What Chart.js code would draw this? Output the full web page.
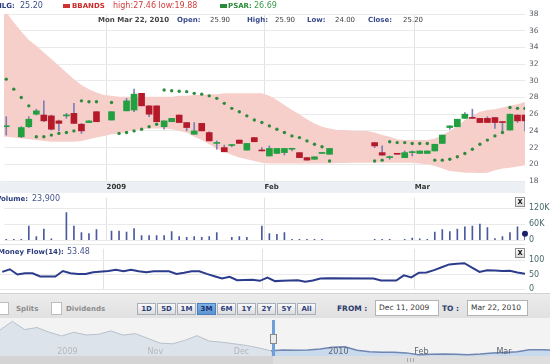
<!DOCTYPE html>
<html>
<head>
<meta charset="utf-8">
<script src="https://cdn.jsdelivr.net/npm/chart.js@4.4.1/dist/chart.umd.min.js"></script>
<style>
  html, body { margin: 0; padding: 0; }
  body { width: 550px; height: 364px; position: relative; overflow: hidden; background: #fff;
         font-family: "DejaVu Sans", Verdana, sans-serif; }
  canvas { position: absolute; left: 0; }
  .t { position: absolute; white-space: nowrap; line-height: 10px; }
  .b { font-weight: bold; }
  .navy { color: #2b3b80; }
  #xstrip { position: absolute; left: 0; top: 181px; width: 525px; height: 12px; background: #eceff4; }
  .sep { position: absolute; left: 0; width: 525px; height: 1px; background: #e4e4e4; }
  .mark { position: absolute; top: 4px; width: 7px; height: 4px; }
  .close { position: absolute; left: 515px; width: 8px; height: 8px; border: 1px solid #8e8e8e;
           background: linear-gradient(#ffffff, #d8d8d8); font: bold 8px "DejaVu Sans"; color: #222;
           text-align: center; line-height: 7px; }
  #ctrl { position: absolute; left: 0; top: 293px; width: 550px; height: 25px;
          background: linear-gradient(#ececec, #e1e1e1); border-top: 1px solid #d2d2d2; box-sizing: border-box; }
  .cb { position: absolute; top: 8px; width: 9px; height: 11px; background: #fff; border: 1px solid #bdbdbd; }
  .lbl { top: 10px; font-size: 7px; font-weight: bold; color: #8c8c8c; }
  #ranges { position: absolute; left: 137px; top: 9px; display: flex; gap: 1px; }
  #ranges span { width: 17px; height: 10px; border: 1px solid #a9aebb; background: linear-gradient(#fafafa, #dcdcdc);
                 font: bold 7px "DejaVu Sans"; color: #2d3f7f; text-align: center; line-height: 10px; }
  #ranges span.on { background: linear-gradient(#7fb2e6, #5a94d2); border-color: #4a7fbf; color: #1c2f6e; }
  .from { top: 10px; font-size: 7.5px; font-weight: bold; color: #2a3a6a; }
  .inp { position: absolute; top: 6px; height: 14px; background: #fff; border: 1px solid #b3b3b3;
         font-size: 7.5px; color: #333; line-height: 14px; padding-left: 3px; box-sizing: content-box; }
  #navbg { position: absolute; left: 0; top: 318px; width: 550px; height: 38px; background: #f3f3f3; }
  #scroll { position: absolute; left: 0; top: 356px; width: 550px; height: 8px; background: #d4d4d4; }
  #thumb { position: absolute; left: 273px; top: 0; width: 277px; height: 8px; background: #dedede; }
  #grip { position: absolute; left: 134px; top: 2px; width: 8px; height: 4px;
          background: repeating-linear-gradient(90deg, #a8a8a8 0 1px, transparent 1px 3px); }
</style>
</head>
<body>
<div id="xstrip"></div>
<div class="sep" style="top:244px"></div>
<canvas id="price" width="550" height="193" style="top:0"></canvas>
<canvas id="volume" width="550" height="60" style="top:189px"></canvas>
<canvas id="mflow" width="550" height="58" style="top:240px"></canvas>

<!-- header, first row -->
<span class="t b navy" style="left:-4px;top:1px;font-size:7px">HLG:</span>
<span class="t" style="left:20px;top:1px;font-size:8px;color:#3d4f8a">25.20</span>
<div class="mark" style="left:63px;background:#d03030"></div>
<span class="t b" style="left:72px;top:1px;font-size:7px;color:#cc2a2a">BBANDS</span>
<span class="t" style="left:113px;top:1px;font-size:8px;color:#d33c3c">high:27.46 low:19.88</span>
<div class="mark" style="left:220px;background:#2a8a3a"></div>
<span class="t b" style="left:228px;top:1px;font-size:7px;color:#2a8a3a">PSAR:</span>
<span class="t" style="left:254px;top:1px;font-size:8px;color:#3a9a4a">26.69</span>

<!-- header, second row -->
<span class="t b" style="left:98px;top:15px;font-size:7px;color:#444">Mon Mar 22, 2010</span>
<span class="t b" style="left:177px;top:15px;font-size:7px;color:#3a4b8c">Open:</span>
<span class="t" style="left:210px;top:15px;font-size:7px;color:#444">25.90</span>
<span class="t b" style="left:247px;top:15px;font-size:7px;color:#3a4b8c">High:</span>
<span class="t" style="left:275px;top:15px;font-size:7px;color:#444">25.90</span>
<span class="t b" style="left:307px;top:15px;font-size:7px;color:#3a4b8c">Low:</span>
<span class="t" style="left:335px;top:15px;font-size:7px;color:#444">24.00</span>
<span class="t b" style="left:368px;top:15px;font-size:7px;color:#3a4b8c">Close:</span>
<span class="t" style="left:403px;top:15px;font-size:7px;color:#444">25.20</span>

<!-- panel titles -->
<span class="t b navy" style="left:-4px;top:194px;font-size:7px">Volume:</span>
<span class="t" style="left:32px;top:194px;font-size:8px;color:#44558f">23,900</span>
<div class="close" style="top:197px">x</div>
<span class="t b navy" style="left:-2px;top:247px;font-size:7px">Money Flow(14):</span>
<span class="t" style="left:67px;top:247px;font-size:8px;color:#44558f">53.48</span>
<div class="close" style="top:248px">x</div>

<div id="ctrl">
  <div class="cb" style="left:-2px"></div><span class="t lbl" style="left:16px">Splits</span>
  <div class="cb" style="left:51px"></div><span class="t lbl" style="left:66px">Dividends</span>
  <div id="ranges"><span>1D</span><span>5D</span><span>1M</span><span class="on">3M</span><span>6M</span><span>1Y</span><span>2Y</span><span>5Y</span><span>All</span></div>
  <span class="t from" style="left:337px">FROM :</span>
  <div class="inp" style="left:375px;width:59px">Dec 11, 2009</div>
  <span class="t from" style="left:442px">TO :</span>
  <div class="inp" style="left:467px;width:56px">Mar 22, 2010</div>
</div>

<div id="navbg"></div>
<canvas id="nav" width="550" height="38" style="top:318px"></canvas>
<div id="scroll"><div id="thumb"><div id="grip"></div></div></div>

<script>
// one slot per weekday, slot 0 = Fri Dec 11 2009, slot 71 = Mon Mar 22 2010
const open = [null,null,24.5,null,23.3,24.5,26.0,25.9,25.8,25.2, 25.8,26.1,24.8,25.0,26.3,null,25.3,null,26.4,26.5,
  28.5,27.0,27.0,24.5,25.1,25.9,25.0,23.6,24.9,23.8, 22.5,22.0,22.25,22.9,21.7,23.2,21.7,21.0,21.3,21.4,
  21.8,21.4,20.8,20.6,21.3,21.2,null,null,null,null, null,22.6,21.4,20.8,21.3,20.8,21.4,21.3,21.3,21.6,
  22.5,24.4,24.5,25.5,25.55,25.5,25.5,25.6,25.05,24.1, 25.9,25.9];
const high = [null,null,25.7,null,24.5,25.7,26.6,27.6,25.9,25.3, 26.1,27.3,24.9,25.2,26.3,null,26.3,null,27.9,29.0,
  28.5,27.0,27.0,25.2,25.5,25.9,25.0,25.0,24.9,23.9, 22.8,22.3,22.4,22.9,22.5,23.2,22.0,22.2,21.9,21.9,
  21.9,21.4,20.8,20.9,21.4,21.9,null,null,null,null, null,22.6,22.2,21.0,21.3,21.6,21.6,21.6,21.6,22.4,
  23.5,24.6,25.4,26.2,26.6,25.5,25.7,25.6,25.05,26.0, 25.9,25.9];
const low = [null,null,23.5,null,23.2,24.4,25.9,25.1,24.1,24.0, 25.5,24.9,23.7,25.0,25.1,null,25.3,null,26.4,26.3,
  27.0,25.7,25.1,24.2,25.1,25.0,24.0,23.6,24.0,22.8, 21.8,21.5,22.1,22.5,21.7,22.7,21.6,21.0,21.3,21.1,
  21.6,20.8,20.5,20.6,21.3,21.2,null,null,null,null, null,22.0,21.1,20.6,21.2,20.8,21.0,21.3,21.3,21.6,
  22.5,24.2,24.5,25.5,25.5,25.0,25.0,24.3,24.0,24.1, 25.0,24.0];
const close = [null,null,24.5,null,24.4,25.4,26.4,25.2,24.2,24.9, 25.8,24.9,24.0,25.2,25.1,null,26.3,null,27.6,28.4,
  27.0,26.0,25.1,25.2,25.5,25.0,24.4,24.0,24.0,22.8, 22.5,21.5,22.25,22.5,22.5,22.7,21.6,21.9,21.9,21.9,
  21.8,20.8,20.5,20.9,21.4,21.9,null,null,null,null, null,22.2,21.1,20.8,21.2,21.4,21.4,21.6,21.6,22.4,
  23.5,24.6,25.4,26.0,25.5,25.0,25.0,25.0,25.0,26.0, 25.2,25.2];
const psar = [null,null,30.2,29.0,28.0,27.0,23.3,23.3,23.5,23.7, 23.8,24.0,27.6,27.5,27.5,null,27.4,23.7,23.8,24.0,
  24.2,24.5,24.8,28.9,28.8,28.75,28.7,28.5,28.4,28.2, 27.9,27.3,26.7,26.3,25.8,25.3,25.0,24.6,24.2,23.8,
  23.4,23.2,22.8,22.4,22.1,20.4,null,null,null,null, null,20.4,20.5,22.7,22.6,22.6,22.5,22.5,22.5,20.5,
  20.5,20.6,20.9,21.3,21.8,22.4,22.9,23.4,23.8,26.8, 26.7,26.69];
const bbUpper = [41.0,39.5,38.2,37.0,35.9,34.9,34.2,33.4,32.6,31.8, 31.0,30.2,29.5,29.0,28.6,28.3,28.2,28.1,28.1,28.1,
  28.1,28.1,28.1,28.1,28.1,28.2,28.2,28.3,28.3,28.4, 28.4,28.5,28.5,28.5,28.5,28.5,28.5,28.2,27.7,27.1,
  26.5,26.0,25.4,24.9,24.5,24.3,24.1,24.1,24.0,24.0, 24.0,23.8,23.5,23.3,23.0,22.9,22.9,22.9,22.9,23.1,
  23.5,24.0,24.6,25.3,25.8,26.3,26.5,26.6,26.8,27.0, 27.2,27.46];
const bbLower = [23.4,23.3,23.3,23.2,23.1,23.0,22.9,22.8,22.7,22.7, 22.7,22.7,22.8,23.0,23.2,23.4,23.6,23.7,23.9,24.1,
  24.2,24.3,24.3,24.3,24.2,24.0,23.8,23.3,22.9,22.4, 21.9,21.5,21.1,20.8,20.6,20.4,20.2,20.1,20.1,20.1,
  20.1,20.1,20.1,20.1,20.1,20.1,20.15,20.15,20.2,20.2, 20.2,20.2,20.2,20.2,20.2,20.2,20.2,20.1,20.0,19.8,
  19.5,19.2,19.1,19.0,19.0,18.95,19.0,19.3,19.5,19.6, 19.75,19.88];
// thousands of shares
const volume = [null,null,3,3,3,53,14,42,5,null, 104,53,29,25,40,null,34,34,31,44,
  17,17,17,17,33,14,11,14,11,14, 29,null,11,14,11,null,53,25,22,29,
  3,3,3,3,3,null,null,null,null,null, null,3,3,3,null,3,8,5,3,31,
  40,33,42,50,53,61,48,6,14,29, 50,23.9];
const moneyFlow = [null,null,60,69,51,55,55,44,44,44, 63,55,53,53,59,null,63,67,62,67,
  62,59,62,62,62,53,57,62,62,53, 45,37,43,31,32,33,29,40,28,29,
  30,31,26,30,37,38,null,null,null,null, null,37,30,30,30,48,41,57,58,66,
  76,86,88,90,75,60,66,65,63,64, 58,53.48];

const xTickDays = [15, 36, 56];
const xTickLabels = ['2009', 'Feb', 'Mar'];
const priceTicks = [18, 20, 22, 24, 26, 28, 30, 32, 34, 36, 38];
const volTicks = [0, 60, 120];
const volTickLabels = ['0', '60K', '120K'];
const mfTicks = [0, 50, 100];

// navigator: weekday index from early Sep 2009
const navDays = [0,3,6,9,12,15,18,21,24,27, 30,33,36,39,42,45,48,51,54,57,
  60,63,66,69,72,75,78,81,84,87, 90,93,96,99,102,105,108,111,114,117, 120,123,126,129,132,134];
const navClose = [39.2,45.5,39.5,41.0,37.5,34.8,37.5,35.5,36.0,38.5, 35.4,36.5,33.0,29.5,29.0,31.5,35.0,31.0,30.2,29.0,
  27.8,26.0,23.8,24.5,24.2,24.4,25.2,26.4,26.8,24.3, 23.2,22.7,22.7,22.3,21.0,21.3,21.5,21.3,21.0,21.4,
  22.2,22.6,23.2,24.6,24.6,24.4];
const navTickDays = [12, 34, 55, 78, 99, 119];
const navTickLabels = ['2009', 'Nov', 'Dec', '2010', 'Feb', 'Mar'];
const navSelStart = 66;

const FONT = '"DejaVu Sans", Verdana, sans-serif';
const GREEN = '#22a040', RED = '#b41a2a';
const slots = open.map((_, i) => i);
const lastDay = slots.length - 1;
const points = arr => slots.filter(i => arr[i] !== null).map(i => ({x: i, y: arr[i]}));

const base = {
  responsive: false, animation: false, events: [],
  plugins: {legend: {display: false}, tooltip: {enabled: false}}
};

function timeAxis(withLabels) {
  return {
    type: 'linear', min: 1.7, max: 71, offset: false,
    afterBuildTicks: s => { s.ticks = xTickDays.map(d => ({value: d + 0.35})); },
    afterFit: s => { s.height = withLabels ? 12 : 0; },
    grid: {color: '#e2e2e2', drawTicks: false, offset: false},
    border: {display: false},
    ticks: {
      display: withLabels, align: 'start', padding: 2, maxRotation: 0, autoSkip: false,
      color: '#333', font: {family: FONT, size: 7, weight: 'bold'},
      callback: (v, i) => xTickLabels[i]
    }
  };
}

function valueAxis(min, max, ticks, fmt, color, size) {
  return {
    position: 'right', min, max,
    afterBuildTicks: s => { s.ticks = ticks.map(v => ({value: v})); },
    afterFit: s => { s.width = 25; },
    grid: {color: '#eaeaea', drawTicks: false},
    border: {display: false},
    ticks: {padding: 4, color, font: {family: FONT, size}, callback: fmt}
  };
}

// price panel
const candleDays = slots.filter(i => open[i] !== null);
new Chart(document.getElementById('price'), {
  type: 'bar',
  data: {
    datasets: [
      {type: 'line', data: points(bbUpper), fill: '+1', backgroundColor: '#f7cfca',
       borderWidth: 0, pointRadius: 0, order: 5},
      {type: 'line', data: points(bbLower), fill: false, borderWidth: 0, pointRadius: 0, order: 5},
      {data: candleDays.map(i => ({x: i, y: [low[i], high[i]]})), backgroundColor: '#7f7fb6',
       barThickness: 1, grouped: false, order: 3},
      {data: candleDays.map(i => ({x: i, y: [open[i], close[i]], up: close[i] >= open[i]})),
       backgroundColor: c => (c.raw && c.raw.up ? GREEN : RED),
       barThickness: 6, minBarLength: 1, grouped: false, order: 2},
      {type: 'line', data: points(psar), showLine: false, pointRadius: 1.7,
       pointBackgroundColor: '#2e8b3e', pointBorderWidth: 0, order: 1}
    ]
  },
  options: {
    ...base,
    layout: {padding: {top: 14, left: 0, right: 0, bottom: 0}},
    scales: {x: timeAxis(true), y: valueAxis(18, 38, priceTicks, v => v, '#5a5f66', 7.5)}
  }
});

// volume panel
new Chart(document.getElementById('volume'), {
  type: 'bar',
  data: {
    datasets: [
      {type: 'line', data: [{x: lastDay, y: volume[lastDay]}], showLine: false, pointRadius: 3,
       pointBackgroundColor: '#17226a', pointBorderWidth: 0, clip: false, order: 0},
      {data: points(volume), backgroundColor: '#4a5a9c', barThickness: 1, grouped: false, order: 1}
    ]
  },
  options: {
    ...base,
    layout: {padding: {top: 6, bottom: 6, left: 0, right: 0}},
    scales: {x: timeAxis(false), y: valueAxis(0, 160, volTicks, (v, i) => volTickLabels[i], '#48686c', 8)}
  }
});

// money flow panel
new Chart(document.getElementById('mflow'), {
  type: 'line',
  data: {
    datasets: [
      {data: points(moneyFlow), borderColor: '#2c3c8c', borderWidth: 2, pointRadius: 0, tension: 0}
    ]
  },
  options: {
    ...base,
    layout: {padding: {top: 6, bottom: 6, left: 0, right: 0}},
    scales: {x: timeAxis(false), y: valueAxis(0, 140, mfTicks, v => v, '#48686c', 8)}
  }
});

// navigator
const navOverlay = {
  id: 'navOverlay',
  afterDatasetsDraw(chart) {
    const {ctx, chartArea: a, scales: {x}} = chart;
    ctx.save();
    ctx.font = '8px ' + FONT;
    ctx.textBaseline = 'bottom';
    navTickDays.forEach((d, i) => {
      ctx.fillStyle = d >= navSelStart ? '#5c6470' : '#b4b8bd';
      ctx.fillText(navTickLabels[i], x.getPixelForValue(d) + 8, a.bottom);
    });
    const hx = Math.round(x.getPixelForValue(navSelStart)) + 2;
    ctx.fillStyle = '#6d9fd8';
    ctx.fillRect(hx - 1, a.top + 2, 3, a.bottom - a.top - 2);
    ctx.fillStyle = '#ececec';
    ctx.strokeStyle = '#8a8a8a';
    ctx.fillRect(hx - 3, a.top + 16, 7, 10);
    ctx.strokeRect(hx - 2.5, a.top + 16.5, 6, 9);
    ctx.restore();
  }
};
const navPts = navDays.map((d, i) => ({x: d, y: navClose[i]}));
new Chart(document.getElementById('nav'), {
  type: 'line',
  data: {
    datasets: [
      {data: navPts.filter(p => p.x <= navSelStart), fill: 'start', backgroundColor: '#dde3ea',
       borderColor: '#b7c0ca', borderWidth: 1, pointRadius: 0},
      {data: navPts.filter(p => p.x >= navSelStart), fill: 'start', backgroundColor: '#c9d9ee',
       borderColor: '#6f86b2', borderWidth: 1.5, pointRadius: 0}
    ]
  },
  options: {
    ...base,
    layout: {padding: 0},
    scales: {
      x: {type: 'linear', display: false, min: 0, max: 134},
      y: {display: false, min: 20, max: 48}
    }
  },
  plugins: [navOverlay]
});
</script>
</body>
</html>
